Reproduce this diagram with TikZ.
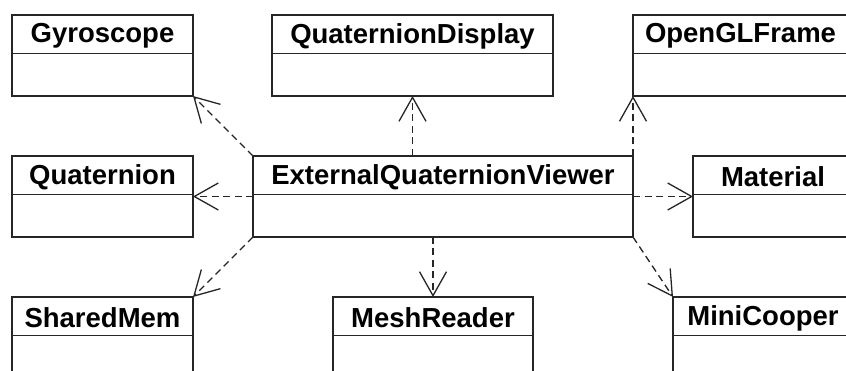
\documentclass[tikz,border=0pt]{standalone}
\usepackage{fontspec}
\setmainfont{Liberation Sans}
\usetikzlibrary{arrows.meta,calc}
\begin{document}
\begin{tikzpicture}[x=1pt,y=-1pt,
  classbox/.style={draw=black!85, line width=1.4pt, fill=white, minimum height=81pt, inner sep=0pt, outer sep=0pt, anchor=north west},
  title/.style={font=\fontsize{27.5}{30}\selectfont\bfseries, inner sep=0pt, anchor=center},
  dep/.style={draw=black!85, line width=1.3pt, dash pattern=on 7pt off 4.5pt, -{Straight Barb[length=24pt,width=27pt,line width=1.3pt]}}]
\useasboundingbox (0,0) rectangle (846,371);
\clip (0,0) rectangle (846,371);
\fill[white] (0,0) rectangle (846,371);
% class boxes
\node[classbox, minimum width=181pt] (gyro) at (12,15) {};
\node[classbox, minimum width=281pt] (qd) at (272,15) {};
\node[classbox, minimum width=215pt] (ogl) at (633,15) {};
\node[classbox, minimum width=181pt] (quat) at (12,156) {};
\node[classbox, minimum width=380pt] (eqv) at (253,156) {};
\node[classbox, minimum width=160pt] (mat) at (693,156) {};
\node[classbox, minimum width=181pt] (sm) at (12,297) {};
\node[classbox, minimum width=200pt] (mr) at (333,297) {};
\node[classbox, minimum width=180pt] (mc) at (673,297) {};
% header separators and titles
\foreach \n/\t in {gyro/Gyroscope, qd/QuaternionDisplay, ogl/OpenGLFrame, quat/Quaternion, eqv/ExternalQuaternionViewer, mat/Material, sm/SharedMem, mr/MeshReader, mc/MiniCooper}{
  \draw[draw=black!85, line width=1.4pt] ($(\n.north west)+(0,38.5)$) -- ($(\n.north east)+(0,38.5)$);
  \node[title] at ($(\n.north)+(0,21)$) {\t};
}
% dependencies
\draw[dep] (eqv.north west) -- (gyro.south east);
\draw[dep] (qd.south |- eqv.north) -- (qd.south);
\draw[dep] (eqv.north east) -- (ogl.south west);
\draw[dep] (eqv.west) -- (quat.east);
\draw[dep] (eqv.east) -- (mat.west);
\draw[dep] (eqv.south west) -- (sm.north east);
\draw[dep] (mr.north |- eqv.south) -- (mr.north);
\draw[dep] (eqv.south east) -- (mc.north west);
\end{tikzpicture}
\end{document}
